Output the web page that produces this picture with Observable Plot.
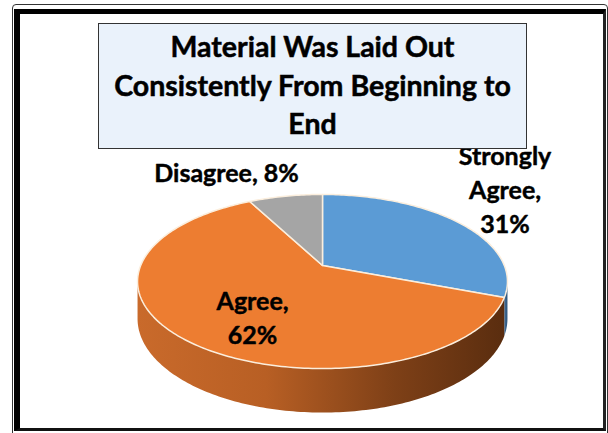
<!DOCTYPE html>
<html><head><meta charset="utf-8">
<script src="https://cdn.jsdelivr.net/npm/d3@7"></script>
<script src="https://cdn.jsdelivr.net/npm/@observablehq/plot@0.6"></script>
<style>
body{margin:0;background:#fff;}
#wrap{position:relative;width:608px;height:433px;overflow:hidden;font-family:Lato,"Open Sans",sans-serif;}
#outer{position:absolute;left:12px;top:4px;width:596px;height:440px;border:1px solid #333;border-radius:4px;box-sizing:border-box;}
#inner{position:absolute;left:14px;top:9px;width:592px;height:422px;box-sizing:border-box;border-left:6px solid #000;border-top:5px solid #000;border-right:3px solid #222;border-bottom:3px solid #111;background:#fff;}
#chart{position:absolute;left:0;top:0;}
#title{position:absolute;left:98px;top:23px;width:429px;height:126px;box-sizing:border-box;background:#eaf2fb;border:1.5px solid #333;text-align:center;font-weight:700;font-size:28.5px;line-height:38.5px;padding-top:3px;color:#000;-webkit-text-stroke:0.5px #000;white-space:nowrap;}
</style></head>
<body>
<div id="wrap">
  <div id="outer"></div>
  <div id="inner"></div>
  <div id="chart"></div>
  <div id="title">Material Was Laid Out<br>Consistently From Beginning to<br>End</div>
</div>
<script>
// ---- data ----
const categories = ["Strongly Agree", "Agree", "Disagree"];
const values = [30.8, 61.5, 7.7];
const percentLabels = ["31%", "62%", "8%"];
const colors = ["#5B9BD5", "#ED7D31", "#A5A5A5"];
const labelBreaks = ["\n", "\n", " "];

// ---- 3D projection parameters (style) ----
const k = 0.184, sa = 0.4626, T = 0.1975, sx = 181.8, cx = 322, cy = 265;
function proj(thetaDeg, r, z) {
  const t = thetaDeg * Math.PI / 180;
  const X = r * Math.sin(t), Y = r * Math.cos(t);
  const w = 1 + k * Y;
  return {u: X / w, v: (-Y * sa + z * T) / w};
}

const total = d3.sum(values);
let acc = 0;
const slices = categories.map((c, i) => {
  const a0 = acc / total * 360; acc += values[i];
  const a1 = acc / total * 360;
  return {cat: c, a0, a1, mid: (a0 + a1) / 2, i};
});

// top faces
const topPts = [];
for (const s of slices) {
  topPts.push({cat: s.cat, ...proj(0, 0, 0)});
  const n = Math.max(2, Math.ceil(s.a1 - s.a0));
  for (let j = 0; j <= n; j++) topPts.push({cat: s.cat, ...proj(s.a0 + (s.a1 - s.a0) * j / n, 1, 0)});
}

// side walls (visible front part)
const sil = 90 + Math.asin(k) * 180 / Math.PI;
const silL = 360 - sil;
function sidePoly(cat, a0, a1) {
  const pts = [];
  const n = Math.max(2, Math.ceil(a1 - a0));
  for (let j = 0; j <= n; j++) pts.push({cat, ...proj(a0 + (a1 - a0) * j / n, 1, 0)});
  for (let j = n; j >= 0; j--) pts.push({cat, ...proj(a0 + (a1 - a0) * j / n, 1, 1)});
  return pts;
}
const sides = [];
for (const s of slices) {
  const a0 = Math.max(s.a0, sil), a1 = Math.min(s.a1, silL);
  if (a1 > a0) sides.push({cat: s.cat, pts: sidePoly(s.cat, a0, a1)});
}

// labels
const labelData = slices.map(s => {
  const p = proj(s.mid, 1, 0);
  const name = s.cat === "Strongly Agree" ? "Strongly\nAgree" : s.cat;
  return {...p, text: name + "," + labelBreaks[s.i] + percentLabels[s.i]};
});
const labelOffsets = [[47, -34], [70, -22], [-59, -25]];

const gradIds = {"Strongly Agree": "url(#sideB)", "Agree": "url(#sideO)", "Disagree": "url(#sideG)"};

const marks = [];
for (const s of sides) {
  marks.push(Plot.line(s.pts, {x: "u", y: "v", curve: "linear-closed", fill: gradIds[s.cat], stroke: "none"}));
}
marks.push(Plot.line(topPts, {x: "u", y: "v", z: "cat", fill: "cat", curve: "linear-closed",
  stroke: "#fbeedd", strokeWidth: 1.5, strokeLinejoin: "round"}));
labelData.forEach((d, i) => {
  marks.push(Plot.text([d], {x: "u", y: "v", text: "text", dx: labelOffsets[i][0], dy: labelOffsets[i][1],
    fontSize: 25, fontWeight: 700, fontFamily: "Lato, 'Open Sans', sans-serif", fill: "#000",
    stroke: "#000", strokeWidth: 0.45, lineHeight: 1.36}));
});

const svg = Plot.plot({
  width: 608, height: 433, margin: 0,
  x: {domain: [-cx / sx, (608 - cx) / sx], range: [0, 608], axis: null},
  y: {domain: [-cy / sx, (433 - cy) / sx], range: [0, 433], axis: null},
  color: {domain: categories, range: colors},
  style: {background: "transparent", overflow: "visible"},
  marks
});
const defs = document.createElementNS("http://www.w3.org/2000/svg", "defs");
defs.innerHTML = `
<linearGradient id="sideO" x1="0" x2="1" y1="0" y2="0">
  <stop offset="0" stop-color="#c96a2b"/>
  <stop offset="0.35" stop-color="#b85f24"/>
  <stop offset="0.7" stop-color="#7e4017"/>
  <stop offset="1" stop-color="#5a2d0f"/>
</linearGradient>
<linearGradient id="sideB" x1="0" x2="1"><stop offset="0" stop-color="#3f6f9c"/><stop offset="1" stop-color="#2d5277"/></linearGradient>
<linearGradient id="sideG" x1="0" x2="1"><stop offset="0" stop-color="#7a7a7a"/><stop offset="1" stop-color="#5a5a5a"/></linearGradient>`;
svg.insertBefore(defs, svg.firstChild);
document.getElementById("chart").appendChild(svg);
</script>
</body></html>
